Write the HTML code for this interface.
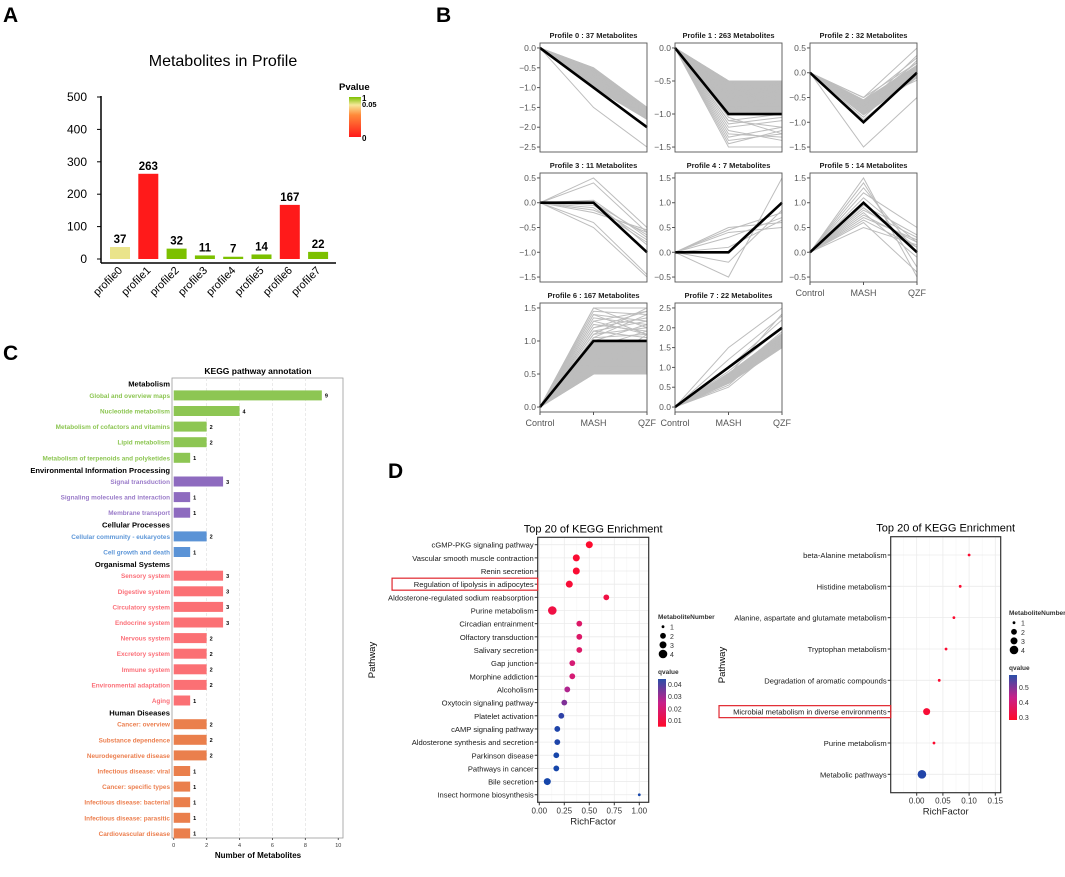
<!DOCTYPE html>
<html><head><meta charset="utf-8">
<style>
html,body{margin:0;padding:0;background:#fff;}
svg{display:block;font-family:"Liberation Sans",Arial,sans-serif;}
</style></head>
<body>
<svg id="fig" width="1065" height="877" viewBox="0 0 1065 877" xmlns="http://www.w3.org/2000/svg">
<defs>
<linearGradient id="pgrad" x1="0" y1="1" x2="0" y2="0">
<stop offset="0" stop-color="#ff1a1a"/><stop offset="0.55" stop-color="#ff8a3a"/><stop offset="0.8" stop-color="#f6e89a"/><stop offset="1" stop-color="#7cc000"/>
</linearGradient>
<linearGradient id="qgrad" x1="0" y1="1" x2="0" y2="0">
<stop offset="0" stop-color="#ff0a2a"/><stop offset="0.5" stop-color="#c8208a"/><stop offset="1" stop-color="#2a4fa8"/>
</linearGradient>
</defs>
<g id="A"></g>
<g id="B"></g>
<g id="C"></g>
<g id="D"></g>
</svg>
<script>
// ---------- Panel A data ----------
const aCategories = ["profile0","profile1","profile2","profile3","profile4","profile5","profile6","profile7"];
const aValues = [37,263,32,11,7,14,167,22];
const aPvalues = [0.06,0,1,1,1,1,0,1];
const aTicks = [0,100,200,300,400,500];

// ---------- Panel B data ----------
const bTitles = ["Profile 0 : 37 Metabolites","Profile 1 : 263 Metabolites","Profile 2 : 32 Metabolites","Profile 3 : 11 Metabolites","Profile 4 : 7 Metabolites","Profile 5 : 14 Metabolites","Profile 6 : 167 Metabolites","Profile 7 : 22 Metabolites"];
const bMedians = [[-1,-2],[-1,-1],[-1,0],[0,-1],[0,1],[1,0],[1,1],[1,2]];
const bRanges = [[-2.5,0],[-1.5,0],[-1.5,0.5],[-1.5,0.5],[-0.5,1.5],[-0.5,1.5],[0,1.5],[0,2.5]];
const bTicks = [[0,-0.5,-1,-1.5,-2,-2.5],[0,-0.5,-1,-1.5],[0.5,0,-0.5,-1,-1.5],[0.5,0,-0.5,-1,-1.5],[1.5,1,0.5,0,-0.5],[1.5,1,0.5,0,-0.5],[1.5,1,0.5,0],[2.5,2,1.5,1,0.5,0]];
const bGroups = ["Control","MASH","QZF"];
// dense gray envelopes: [mashLo, mashHi, qzfLo, qzfHi] (null = none)
const bBands = [[-1.0,-0.5,-1.8,-1.5],[-1.0,-0.5,-1.0,-0.5],[-0.85,-0.55,-0.1,0.15],null,null,null,[0.5,1.0,0.5,1.0],[0.6,0.85,1.5,1.85]];
const bLines0 = [[-0.5,-1.5],[-0.55,-1.6],[-0.6,-1.55],[-0.65,-1.7],[-0.7,-1.6],[-0.75,-1.75],[-0.8,-1.65],[-0.85,-1.8],[-0.9,-1.7],[-0.95,-1.8],[-1.0,-1.75],[-0.6,-1.8],[-0.7,-1.5],[-0.52,-1.65],[-0.58,-1.52],[-1.5,-2.5]];
const bLines1 = [[-0.5,-0.5],[-0.5,-0.7],[-0.5,-0.9],[-0.55,-1.0],[-0.6,-0.55],[-0.6,-0.8],[-0.65,-0.6],[-0.7,-0.5],[-0.7,-0.75],[-0.7,-0.95],[-0.75,-0.65],[-0.8,-0.5],[-0.8,-0.85],[-0.85,-0.55],[-0.85,-1.0],[-0.9,-0.7],[-0.9,-0.9],[-0.95,-0.5],[-0.95,-0.8],[-1.0,-0.6],[-1.0,-0.9],[-1.1,-1.2],[-1.2,-1.1],[-1.3,-1.35],[-1.4,-1.3],[-1.5,-1.5],[-1.25,-1.4],[-1.45,-1.25],[-1.15,-1.05],[-1.05,-1.3],[-1.1,-1.0],[-1.35,-1.2]];
const bLines2 = [[-0.5,0.5],[-0.55,0.3],[-0.6,0.2],[-0.65,0.1],[-0.7,0.15],[-0.75,0.0],[-0.8,0.25],[-0.85,-0.1],[-0.6,-0.1],[-0.9,0.1],[-0.7,0.35],[-0.55,0.05],[-0.95,-0.05],[-0.5,0.2],[-0.65,-0.15],[-1.5,-0.5]];
const bLines3 = [[0.5,-0.5],[0.4,-0.6],[0.05,-0.7],[0,-0.65],[-0.05,-0.75],[-0.1,-0.8],[-0.2,-0.55],[-0.4,-1.45],[-0.5,-1.5],[0.02,-0.85],[-0.15,-0.6]];
const bLines4 = [[0.5,0.6],[0.4,0.5],[0.3,0.7],[-0.2,0.85],[-0.5,1.5],[0.1,0.65],[0.45,0.8]];
const bLines5 = [[1.5,-0.5],[1.4,-0.3],[1.2,0.5],[1.1,0.2],[0.9,0.1],[0.85,0.3],[0.8,-0.1],[0.75,0.2],[0.7,0.25],[0.6,-0.4],[0.5,0.15],[1.3,0.0],[0.95,0.35],[0.65,0.1]];
const bLines6 = [[0.5,0.5],[0.5,0.8],[0.55,1.1],[0.6,0.6],[0.6,0.9],[0.7,0.7],[0.7,1.0],[0.8,0.85],[0.9,0.95],[1.0,0.85],[1.05,1.1],[1.1,1.2],[1.1,1.5],[1.15,1.05],[1.2,1.35],[1.25,1.15],[1.3,1.45],[1.35,1.25],[1.4,1.1],[1.45,1.4],[1.5,1.5],[1.5,1.2],[1.2,1.45],[1.4,1.3],[1.15,1.3],[1.3,1.1],[1.05,1.4],[1.0,1.25],[0.9,1.15]];
const bLines7 = [[1.5,2.5],[1.2,2.3],[1.0,2.2],[0.9,2.0],[0.8,1.9],[0.75,1.8],[0.7,1.7],[0.65,1.6],[0.6,1.5],[0.55,1.75],[0.5,1.6],[0.85,1.85],[0.7,1.65],[0.8,2.35]];
const bAllLines = [bLines0,bLines1,bLines2,bLines3,bLines4,bLines5,bLines6,bLines7];

// ---------- Panel C data ----------
const cGroups = ["Metabolism","Environmental Information Processing","Cellular Processes","Organismal Systems","Human Diseases"];
const cLabels = [
 ["Global and overview maps","Nucleotide metabolism","Metabolism of cofactors and vitamins","Lipid metabolism","Metabolism of terpenoids and polyketides"],
 ["Signal transduction","Signaling molecules and interaction","Membrane transport"],
 ["Cellular community - eukaryotes","Cell growth and death"],
 ["Sensory system","Digestive system","Circulatory system","Endocrine system","Nervous system","Excretory system","Immune system","Environmental adaptation","Aging"],
 ["Cancer: overview","Substance dependence","Neurodegenerative disease","Infectious disease: viral","Cancer: specific types","Infectious disease: bacterial","Infectious disease: parasitic","Cardiovascular disease"]];
const cValues = [[9,4,2,2,1],[3,1,1],[2,1],[3,3,3,3,2,2,2,2,1],[2,2,2,1,1,1,1,1]];
const cTicks = [0,2,4,6,8,10];

// ---------- Panel D data ----------
const d1Pathways = ["cGMP-PKG signaling pathway","Vascular smooth muscle contraction","Renin secretion","Regulation of lipolysis in adipocytes","Aldosterone-regulated sodium reabsorption","Purine metabolism","Circadian entrainment","Olfactory transduction","Salivary secretion","Gap junction","Morphine addiction","Alcoholism","Oxytocin signaling pathway","Platelet activation","cAMP signaling pathway","Aldosterone synthesis and secretion","Parkinson disease","Pathways in cancer","Bile secretion","Insect hormone biosynthesis"];
const d1Rich = [0.50,0.37,0.37,0.30,0.67,0.13,0.40,0.40,0.40,0.33,0.33,0.28,0.25,0.22,0.18,0.18,0.17,0.17,0.08,1.00];
const d1Count = [3,3,3,3,2,4,2,2,2,2,2,2,2,2,2,2,2,2,3,1];
const d1Q = [0.003,0.004,0.004,0.005,0.008,0.008,0.016,0.016,0.016,0.019,0.019,0.027,0.033,0.043,0.045,0.045,0.046,0.046,0.046,0.046];
const d1XTicks = [0,0.25,0.5,0.75,1.0];
const d1XLabels = ["0.00","0.25","0.50","0.75","1.00"];
const d2Pathways = ["beta-Alanine metabolism","Histidine metabolism","Alanine, aspartate and glutamate metabolism","Tryptophan metabolism","Degradation of aromatic compounds","Microbial metabolism in diverse environments","Purine metabolism","Metabolic pathways"];
const d2Rich = [0.100,0.083,0.071,0.056,0.043,0.019,0.033,0.010];
const d2Count = [1,1,1,1,1,3,1,4];
const d2Q = [0.28,0.28,0.28,0.28,0.28,0.29,0.28,0.58];
const d2XTicks = [0,0.05,0.10,0.15];
const d2XLabels = ["0.00","0.05","0.10","0.15"];

const NS="http://www.w3.org/2000/svg";
function mk(parent,tag,attrs,text){const e=document.createElementNS(NS,tag);for(const k in attrs)e.setAttribute(k,attrs[k]);if(text!==undefined)e.textContent=text;parent.appendChild(e);return e;}
function mix(c1,c2,t){return "rgb("+c1.map((v,i)=>Math.round(v+(c2[i]-v)*t)).join(",")+")";}

// ---------- Panel A ----------
(function(){
 const g=document.getElementById('A');
 let e=mk(g,'text',{x:3,y:22,'font-size':21,'font-weight':'bold'},"A");
 
 
 e=mk(g,'text',{x:223,y:66,'font-size':16,'text-anchor':'middle'},"Metabolites in Profile");
 
 
 const x0=101,x1=336,yb=259,pxPer=(259-97)/500;
 const ys=v=>yb-v*pxPer;
 const xs=i=>120+i*28.3;
 mk(g,'line',{x1:x0,y1:96,x2:x0,y2:263,stroke:'#000','stroke-width':1.5});
 mk(g,'line',{x1:x0,y1:263,x2:x1,y2:263,stroke:'#000','stroke-width':1.5});
 aTicks.forEach(t=>{
  mk(g,'line',{x1:x0-4,y1:ys(t),x2:x0,y2:ys(t),stroke:'#000'});
  const tl=mk(g,'text',{x:87,y:ys(t)+4,'font-size':12,'text-anchor':'end'},String(t));
  
  
 });
 aValues.forEach((v,i)=>{
  const p=aPvalues[i];
  const col=p<=0.05?mix([255,26,26],[246,232,154],p/0.05):mix([246,232,154],[124,192,0],Math.min(1,(p-0.05)/0.1));
  const r=mk(g,'rect',{x:xs(i)-10,y:ys(v),width:20,height:ys(0)-ys(v),fill:col});
  
  
  const t=mk(g,'text',{x:xs(i),y:ys(v)-4,'font-size':11.5,'font-weight':'bold','text-anchor':'middle'},String(v));
  
  
  const xl=mk(g,'text',{x:xs(i)+3,y:271,'font-size':11,'text-anchor':'end',transform:'rotate(-45 '+(xs(i)+3)+' 271)'},aCategories[i]);
  
  
 });
 e=mk(g,'text',{x:339,y:90,'font-size':9.5,'font-weight':'bold'},"Pvalue");
 
 
 e=mk(g,'rect',{x:349,y:97,width:12,height:40,fill:'url(#pgrad)'});
 
 
 mk(g,'text',{x:362,y:101,'font-size':8,'font-weight':'bold'},"1");
 mk(g,'text',{x:362,y:107,'font-size':7.5,'font-weight':'bold'},"0.05");
 mk(g,'text',{x:362,y:141,'font-size':8,'font-weight':'bold'},"0");
})();

// ---------- Panel B ----------
(function(){
 const g=document.getElementById('B');
 let e=mk(g,'text',{x:436,y:22,'font-size':21,'font-weight':'bold'},"B");
 
 
 const colX=[540,675,810],rowY=[43,173,303],W=107,H=109;
 bTitles.forEach((title,k)=>{
  const x0=colX[k%3],y0=rowY[Math.floor(k/3)];
  const sub=mk(g,'g',{});
  
  
  const [lo,hi]=bRanges[k],ex=(hi-lo)*0.05;
  const ys=v=>y0+H-(v-(lo-ex))/((hi+ex)-(lo-ex))*H;
  const xs=i=>x0+i*W/2;
  const t=mk(sub,'text',{x:x0+W/2,y:y0-5,'font-size':7.5,'font-weight':'bold','text-anchor':'middle',fill:'#222'},title);
  
  
  const bd=bBands[k];
  if(bd){
   const pg=mk(sub,'polygon',{points:[[xs(0),ys(0)],[xs(1),ys(bd[1])],[xs(2),ys(bd[3])],[xs(2),ys(bd[2])],[xs(1),ys(bd[0])]].map(p=>p.join(',')).join(' '),fill:'#bdbdbd',stroke:'#bdbdbd','stroke-width':1});
   
   
  }
  bAllLines[k].forEach(l=>{
   const pl=mk(sub,'polyline',{points:[[xs(0),ys(0)],[xs(1),ys(l[0])],[xs(2),ys(l[1])]].map(p=>p.join(',')).join(' '),fill:'none',stroke:'#bdbdbd','stroke-width':1});
   
   
  });
  const m=bMedians[k];
  const ml=mk(sub,'polyline',{points:[[xs(0),ys(0)],[xs(1),ys(m[0])],[xs(2),ys(m[1])]].map(p=>p.join(',')).join(' '),fill:'none',stroke:'#000','stroke-width':2.6});
  
  
  mk(sub,'rect',{x:x0,y:y0,width:W,height:H,fill:'none',stroke:'#555','stroke-width':0.9});
  bTicks[k].forEach(tv=>{
   mk(sub,'line',{x1:x0-3,y1:ys(tv),x2:x0,y2:ys(tv),stroke:'#555'});
   const tl=mk(sub,'text',{x:x0-4,y:ys(tv)+3,'font-size':8.5,'text-anchor':'end',fill:'#555'},(tv<0?"\u2212":"")+Math.abs(tv).toFixed(1));
   
   
  });
  if(k>=5){
   bGroups.forEach((gname,i)=>{
    mk(sub,'line',{x1:xs(i),y1:y0+H,x2:xs(i),y2:y0+H+3,stroke:'#555'});
    const xl=mk(sub,'text',{x:xs(i),y:y0+H+14,'font-size':9,'text-anchor':'middle',fill:'#555'},gname);
    
    
   });
  }
 });
})();

// ---------- Panel C ----------
(function(){
 const g=document.getElementById('C');
 let e=mk(g,'text',{x:3,y:360,'font-size':21,'font-weight':'bold'},"C");
 
 
 const bx0=172,bx1=343,by0=378,by1=838;
 const xs=v=>173.7+v*16.46;
 const barCols=['#8dc653','#8e6bbf','#5b93d6','#fb7074','#ea7f4c'];
 const labCols=['#8dc653','#9a7bc9','#5e97d8','#fb6f78','#ec7f4f'];
 e=mk(g,'text',{x:258,y:374,'font-size':8.5,'font-weight':'bold','text-anchor':'middle'},"KEGG pathway annotation");
 
 
 mk(g,'rect',{x:bx0,y:by0,width:bx1-bx0,height:by1-by0,fill:'#fff',stroke:'#999','stroke-width':0.8});
 cTicks.forEach(t=>{
  if(t>0&&t<10) mk(g,'line',{x1:xs(t),y1:by0,x2:xs(t),y2:by1,stroke:'#ddd','stroke-dasharray':'3,2','stroke-width':0.6});
  mk(g,'line',{x1:xs(t),y1:by1,x2:xs(t),y2:by1+2,stroke:'#555'});
  const tl=mk(g,'text',{x:xs(t),y:by1+9,'font-size':5.5,'text-anchor':'middle',fill:'#333'},String(t));
  
  
 });
 e=mk(g,'text',{x:258,y:858,'font-size':8,'font-weight':'bold','text-anchor':'middle'},"Number of Metabolites");
 
 
 let y=371.7;
 cGroups.forEach((grp,gi)=>{
  y+=12;
  const h=mk(g,'text',{x:170,y:y+3,'font-size':7.6,'font-weight':'bold','text-anchor':'end'},grp);
  
  
  cLabels[gi].forEach((lab,li)=>{
   y+= li===0?11.7:15.6;
   const v=cValues[gi][li];
   const r=mk(g,'rect',{x:xs(0),y:y-5,width:xs(v)-xs(0),height:10,fill:barCols[gi]});
   
   
   const tl=mk(g,'text',{x:170,y:y+2.5,'font-size':6.4,'font-weight':'bold','text-anchor':'end',fill:labCols[gi]},lab);
   
   
   const vl=mk(g,'text',{x:xs(v)+3,y:y+2.3,'font-size':5.5,'font-weight':'bold'},String(v));
   
   
  });
 });
})();

// ---------- Panel D ----------
function qColor(t){t=Math.max(0,Math.min(1,t));return t<0.5?mix([255,10,42],[200,32,138],t*2):mix([200,32,138],[22,70,170],(t-0.5)*2);}
function dotChart(g,o){
 const {bx0,bx1,by0,by1,xmin,xmax,yFirst,yStep,paths,rich,count,q,qlo,qhi,xt,xl,name,boxLabel}=o;
 const xs=v=>bx0+(v-xmin)/(xmax-xmin)*(bx1-bx0);
 const ys=i=>yFirst+i*yStep;
 const sub=mk(g,'g',{});
 
 
 mk(sub,'rect',{x:bx0,y:by0,width:bx1-bx0,height:by1-by0,fill:'#fff'});
 for(let i=0;i<xt.length;i++){
  mk(sub,'line',{x1:xs(xt[i]),y1:by0,x2:xs(xt[i]),y2:by1,stroke:'#ebebeb','stroke-width':0.8});
  if(i<xt.length-1){const mv=(xt[i]+xt[i+1])/2;mk(sub,'line',{x1:xs(mv),y1:by0,x2:xs(mv),y2:by1,stroke:'#f4f4f4','stroke-width':0.5});}
 }
 const lowMinor=xt[0]-(xt[1]-xt[0])/2; if(lowMinor>xmin) mk(sub,'line',{x1:xs(lowMinor),y1:by0,x2:xs(lowMinor),y2:by1,stroke:'#f4f4f4','stroke-width':0.5});
 paths.forEach((p,i)=>{
  mk(sub,'line',{x1:bx0,y1:ys(i),x2:bx1,y2:ys(i),stroke:'#ebebeb','stroke-width':0.8});
  mk(sub,'line',{x1:bx0-3,y1:ys(i),x2:bx0,y2:ys(i),stroke:'#333'});
  const tl=mk(sub,'text',{x:bx0-4,y:ys(i)+3,'font-size':7.6,'text-anchor':'end',fill:'#1a1a1a'},p);
  
  
 });
 paths.forEach((p,i)=>{
  const rr=[0,1.4,2.9,3.5,4.3][count[i]];
  const c=mk(sub,'circle',{cx:xs(rich[i]),cy:ys(i),r:rr,fill:qColor((q[i]-qlo)/(qhi-qlo))});
  
  
 });
 mk(sub,'rect',{x:bx0,y:by0,width:bx1-bx0,height:by1-by0,fill:'none',stroke:'#333','stroke-width':1.2});
 xt.forEach((t,i)=>{
  mk(sub,'line',{x1:xs(t),y1:by1,x2:xs(t),y2:by1+3,stroke:'#333'});
  const tl=mk(sub,'text',{x:xs(t),y:by1+11,'font-size':8,'text-anchor':'middle',fill:'#333'},xl[i]);
  
  
 });
 const xt2=mk(sub,'text',{x:(bx0+bx1)/2,y:by1+22,'font-size':9.5,'text-anchor':'middle',fill:'#222'},"RichFactor");
 
 
 const tt=mk(sub,'text',{x:(bx0+bx1)/2,y:by0-5,'font-size':11,'text-anchor':'middle'},"Top 20 of KEGG Enrichment");
 
 
 const bl=paths.indexOf(boxLabel);
 const bw=boxLabel.length*3.72+8;
 const br=mk(sub,'rect',{x:bx0-bw,y:ys(bl)-6,width:bw,height:12,fill:'none',stroke:'#e0262e','stroke-width':1.2});
 
 
}
(function(){
 const g=document.getElementById('D');
 let e=mk(g,'text',{x:388,y:478,'font-size':21,'font-weight':'bold'},"D");
 
 
 dotChart(g,{bx0:537.7,bx1:648.7,by0:537.3,by1:802.3,xmin:-0.016,xmax:1.094,yFirst:544.7,yStep:13.16,paths:d1Pathways,rich:d1Rich,count:d1Count,q:d1Q,qlo:0.002,qhi:0.046,xt:d1XTicks,xl:d1XLabels,name:'kegg-enrichment-left',boxLabel:"Regulation of lipolysis in adipocytes"});
 dotChart(g,{bx0:890.7,bx1:1000.7,by0:536.7,by1:792.7,xmin:-0.0496,xmax:0.1603,yFirst:555,yStep:31.33,paths:d2Pathways,rich:d2Rich,count:d2Count,q:d2Q,qlo:0.27,qhi:0.59,xt:d2XTicks,xl:d2XLabels,name:'kegg-enrichment-right',boxLabel:"Microbial metabolism in diverse environments"});
 [[375,660],[725,665]].forEach(p=>{
  const t=mk(g,'text',{x:p[0],y:p[1],'font-size':9.5,'text-anchor':'middle',transform:'rotate(-90 '+p[0]+' '+p[1]+')'},"Pathway");
  
  
 });
 [[658,619,626.7,9.1,['0.04','0.03','0.02','0.01'],[684,696,708.7,720],674,679,726.7],[1009,615,622.7,9.1,['0.5','0.4','0.3'],[687,702,717],670,675,720]].forEach((L,li)=>{
  const [lx,ty,s1,ds,ql,qy,qty,g0,g1]=L;
  const lt=mk(g,'text',{x:lx,y:ty,'font-size':6.5,'font-weight':'bold',fill:'#333'},"MetaboliteNumber");
  
  
  [1,2,3,4].forEach((n,i)=>{
   mk(g,'circle',{cx:lx+5,cy:s1+i*ds,r:[1.4,2.9,3.5,4.3][i],fill:'#000'});
   mk(g,'text',{x:lx+12,y:s1+i*ds+3,'font-size':7,fill:'#333'},String(n));
  });
  const qt=mk(g,'text',{x:lx,y:qty,'font-size':6.5,'font-weight':'bold',fill:'#333'},"qvalue");
  
  
  mk(g,'rect',{x:lx,y:g0,width:8,height:g1-g0,fill:'url(#qgrad)'});
  ql.forEach((s,i)=>mk(g,'text',{x:lx+10,y:qy[i]+3,'font-size':7,fill:'#333'},s));
 });
})();
</script>
</body></html>
